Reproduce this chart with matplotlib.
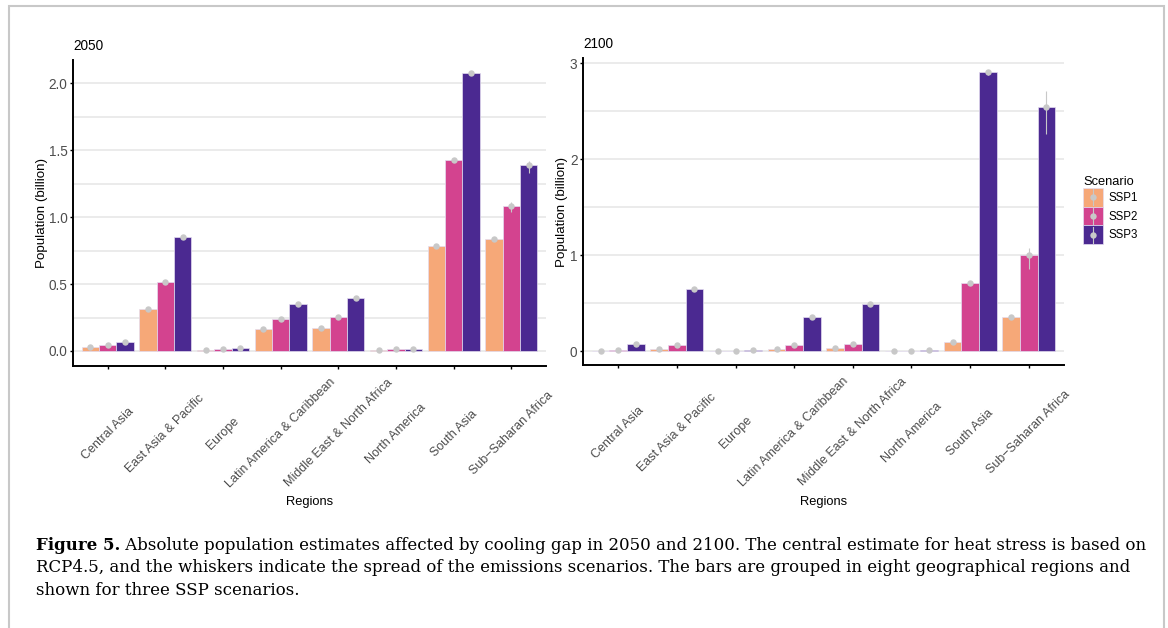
import numpy as np
import matplotlib.pyplot as plt
from matplotlib.patches import Rectangle, Patch
from matplotlib.lines import Line2D
from matplotlib.legend_handler import HandlerBase

plt.rcParams['font.family'] = ['Liberation Sans', 'DejaVu Sans']

regions = ['Central Asia', 'East Asia & Pacific', 'Europe', 'Latin America & Caribbean',
           'Middle East & North Africa', 'North America', 'South Asia', 'Sub\u2212Saharan Africa']
scenarios = ['SSP1', 'SSP2', 'SSP3']
colors = ['#F6A878', '#D3438F', '#4B2991']

# population affected (billion), central estimate
ssp1_2050 = [0.032, 0.315, 0.010, 0.166, 0.173, 0.010, 0.785, 0.838]
ssp2_2050 = [0.047, 0.518, 0.012, 0.242, 0.253, 0.012, 1.423, 1.085]
ssp3_2050 = [0.069, 0.850, 0.020, 0.352, 0.394, 0.013, 2.078, 1.385]
# whiskers (spread of emissions scenarios)
ssp1_2050_lo = [0.030, 0.305, 0.009, 0.160, 0.168, 0.009, 0.775, 0.820]
ssp1_2050_hi = [0.034, 0.322, 0.011, 0.170, 0.178, 0.011, 0.792, 0.852]
ssp2_2050_lo = [0.045, 0.508, 0.011, 0.235, 0.245, 0.011, 1.410, 1.040]
ssp2_2050_hi = [0.049, 0.525, 0.013, 0.248, 0.260, 0.013, 1.432, 1.110]
ssp3_2050_lo = [0.066, 0.840, 0.019, 0.345, 0.385, 0.012, 2.065, 1.330]
ssp3_2050_hi = [0.072, 0.858, 0.021, 0.358, 0.400, 0.014, 2.088, 1.420]

ssp1_2100 = [0.005, 0.024, 0.004, 0.020, 0.030, 0.004, 0.090, 0.354]
ssp2_2100 = [0.012, 0.062, 0.005, 0.060, 0.070, 0.005, 0.708, 1.000]
ssp3_2100 = [0.076, 0.642, 0.015, 0.358, 0.486, 0.006, 2.906, 2.549]
ssp1_2100_lo = [0.004, 0.020, 0.003, 0.017, 0.026, 0.003, 0.082, 0.330]
ssp1_2100_hi = [0.006, 0.028, 0.005, 0.023, 0.034, 0.005, 0.098, 0.372]
ssp2_2100_lo = [0.010, 0.055, 0.004, 0.052, 0.062, 0.004, 0.690, 0.860]
ssp2_2100_hi = [0.014, 0.069, 0.006, 0.068, 0.078, 0.006, 0.725, 1.070]
ssp3_2100_lo = [0.070, 0.625, 0.013, 0.340, 0.470, 0.005, 2.880, 2.267]
ssp3_2100_hi = [0.082, 0.660, 0.017, 0.375, 0.500, 0.007, 2.930, 2.715]

panels = [
    ('2050', [ssp1_2050, ssp2_2050, ssp3_2050],
     [ssp1_2050_lo, ssp2_2050_lo, ssp3_2050_lo],
     [ssp1_2050_hi, ssp2_2050_hi, ssp3_2050_hi],
     np.arange(0, 2.01, 0.5), np.arange(0, 2.01, 0.25), (-0.112, 2.172), ['0.0', '0.5', '1.0', '1.5', '2.0']),
    ('2100', [ssp1_2100, ssp2_2100, ssp3_2100],
     [ssp1_2100_lo, ssp2_2100_lo, ssp3_2100_lo],
     [ssp1_2100_hi, ssp2_2100_hi, ssp3_2100_hi],
     np.arange(0, 3.01, 1), np.arange(0, 3.01, 0.5), (-0.146, 3.056), ['0', '1', '2', '3']),
]

caption = [
    ('Figure 5.', ' Absolute population estimates affected by cooling gap in 2050 and 2100. The central estimate for heat stress is based on'),
    ('', 'RCP4.5, and the whiskers indicate the spread of the emissions scenarios. The bars are grouped in eight geographical regions and'),
    ('', 'shown for three SSP scenarios.'),
]

W, H = 1168, 628
fig = plt.figure(figsize=(W / 100, H / 100), dpi=100)

# axes boxes in pixels: left, top, right, bottom
boxes = [(73, 60, 546, 366), (583, 58, 1064, 365)]
ylab_x = [42, 562]
grey_pt = '#C8C8C8'

x = np.arange(1, len(regions) + 1)
bw = 0.3

for (title, vals, los, his, majors, grids, ylim, ylabels), (l, t, r, b), yx in zip(panels, boxes, ylab_x):
    ax = fig.add_axes([l / W, 1 - b / H, (r - l) / W, (b - t) / H])
    for g in grids:
        ax.axhline(g, color='#E5E5E5', lw=1.1, zorder=0)
    for i, s in enumerate(scenarios):
        xs = x + (i - 1) * bw
        ax.bar(xs, vals[i], width=bw, color=colors[i], edgecolor='#E4DDF0', linewidth=0.5, zorder=2)
        ax.vlines(xs, los[i], his[i], color=grey_pt, lw=0.8, zorder=3)
        ax.plot(xs, vals[i], 'o', color=grey_pt, ms=4.6, mew=0, zorder=4)
    ax.set_xlim(0.4, 8.6)
    ax.set_ylim(*ylim)
    ax.set_yticks(majors)
    ax.set_yticklabels(ylabels)
    ax.set_xticks(x)
    ax.set_xticklabels(regions, rotation=45, ha='center', va='center', rotation_mode='default')
    ax.tick_params(axis='x', length=2.5, width=1, colors='#000000', labelcolor='#4D4D4D',
                   labelsize=9, pad=46)
    ax.tick_params(axis='y', length=2.5, width=1, colors='#000000', labelcolor='#4D4D4D',
                   labelsize=9.8, pad=1.5)
    for side in ['top', 'right']:
        ax.spines[side].set_visible(False)
    for side in ['left', 'bottom']:
        ax.spines[side].set_linewidth(1.4)
    ax.set_facecolor('white')
    ax.set_ylabel('Population (billion)', fontsize=9.6)
    ax.yaxis.set_label_coords((yx - l) / (r - l), 0.5)
    ax.yaxis.label.set_va('center')
    ax.set_xlabel('Regions', fontsize=9.3)
    ax.xaxis.set_label_coords(0.5, (b - 502) / (b - t))
    ax.xaxis.label.set_va('center')
    ax.set_title(title, loc='left', fontsize=9.8, pad=7.5)


class KeyHandler(HandlerBase):
    def create_artists(self, legend, orig_handle, xdescent, ydescent, width, height, fontsize, trans):
        rect = Rectangle((-xdescent, -ydescent), width, height, facecolor=orig_handle.get_facecolor(),
                         edgecolor='#E4DDF0', lw=0.5, transform=trans)
        cx = -xdescent + width / 2
        cy = -ydescent + height / 2
        ln = Line2D([cx, cx], [-ydescent + 1, -ydescent + height - 1], color=grey_pt, lw=0.8, transform=trans)
        dot = Line2D([cx], [cy], marker='o', ms=4.6, mew=0, color=grey_pt, transform=trans)
        return [rect, ln, dot]


handles = [Patch(facecolor=c) for c in colors]
leg = fig.legend(handles, scenarios, handler_map={Patch: KeyHandler()}, loc='upper left',
                 bbox_to_anchor=(1083 / W, 1 - 176 / H), frameon=False, title='Scenario',
                 fontsize=8.3, title_fontsize=9.3, handlelength=1.7, handleheight=2.12,
                 labelspacing=0.0, handletextpad=0.55, borderpad=0, borderaxespad=0,
                 alignment='left')

# figure frame
fig.patches.append(Rectangle((9 / W, -0.2), (1164 - 9) / W, 1.2 - 6 / H, transform=fig.transFigure,
                             fill=False, edgecolor='#C8C8C8', lw=1.5))

# caption, sized so the first line spans the same width as the original
fig.canvas.draw()
rdr = fig.canvas.get_renderer()
serif = 'DejaVu Serif'


def line_width(fs):
    bold, rest = caption[0]
    t1 = fig.text(0, 0, bold, fontsize=fs, fontweight='bold', family=serif)
    t2 = fig.text(0, 0, rest, fontsize=fs, family=serif)
    w = t1.get_window_extent(rdr).width + t2.get_window_extent(rdr).width
    t1.remove()
    t2.remove()
    return w


fs = 12.0
fs = fs * (1144 - 36) / line_width(fs)
base_y = [550, 572.5, 595]
for (bold, rest), by in zip(caption, base_y):
    xpos = 36 / W
    if bold:
        tb = fig.text(xpos, 1 - by / H, bold, fontsize=fs, fontweight='bold', family=serif, va='baseline')
        xpos += tb.get_window_extent(rdr).width / W
    fig.text(xpos, 1 - by / H, rest, fontsize=fs, family=serif, va='baseline')

fig.savefig('out.png', dpi=100, facecolor='white')
